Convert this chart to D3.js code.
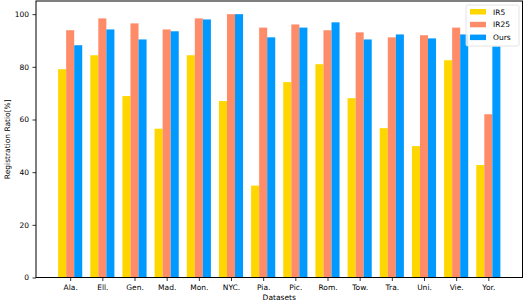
<!DOCTYPE html>
<html lang="en">

<head>
    <script src='https://d3js.org/d3.v7.min.js'></script>
    <style>
        body { margin: 0; background: #fff; }
        text { font-family: "DejaVu Sans", sans-serif; }
    </style>
</head>

<body>

    <script>
        // dataset names on the x axis
        const datasets = ["Ala.", "Ell.", "Gen.", "Mad.", "Mon.", "NYC.", "Pia.", "Pic.", "Rom.", "Tow.", "Tra.", "Uni.", "Vie.", "Yor."];

        // registration ratio per method
        const ir5 = [79.1, 84.4, 68.9, 56.5, 84.4, 67.0, 34.9, 74.2, 81.0, 68.1, 56.7, 49.9, 82.5, 42.7];
        const ir25 = [93.9, 98.4, 96.5, 94.2, 98.4, 100, 94.9, 96.1, 93.9, 93.1, 91.2, 92.0, 94.9, 62.0];
        const ours = [88.2, 94.2, 90.4, 93.5, 98.0, 100, 91.2, 94.9, 96.9, 90.4, 92.3, 90.8, 92.3, 87.7];

        const seriesNames = ["IR5", "IR25", "Ours"];
        const colors = ["#FFD700", "#FF8C69", "#0099FF"];
        const yTicks = [0, 20, 40, 60, 80, 100];

        const width = 524, height = 304;
        const margin = {left: 36, right: 1.5, top: 1, bottom: 26.5};

        const svg = d3.select("body").append("svg")
            .attr("width", width)
            .attr("height", height);

        // matplotlib style: bars at integer positions, width 0.25, 5% margins
        const x = d3.scaleLinear()
            .domain([-1.0625, datasets.length - 1 + 1.0625])
            .range([margin.left, width - margin.right]);

        const y = d3.scaleLinear()
            .domain([0, 105])
            .range([height - margin.bottom, margin.top]);

        const series = [ir5, ir25, ours];
        const bw = 0.25;

        series.forEach(function(vals, s) {
            svg.append("g")
                .selectAll("rect")
                .data(vals)
                .enter()
                .append("rect")
                .attr("x", (d, i) => x(i + (s - 1) * bw - bw / 2))
                .attr("width", x(bw) - x(0))
                .attr("y", d => y(d))
                .attr("height", d => y(0) - y(d))
                .attr("fill", colors[s]);
        });

        // axes
        const xAxis = d3.axisBottom(x)
            .tickValues(d3.range(datasets.length))
            .tickFormat(i => datasets[i])
            .tickSize(3.5)
            .tickPadding(3.5);

        const yAxis = d3.axisLeft(y)
            .tickValues(yTicks)
            .tickSize(3.5)
            .tickPadding(3.5);

        const gx = svg.append("g")
            .attr("transform", "translate(0," + (height - margin.bottom) + ")")
            .call(xAxis);
        const gy = svg.append("g")
            .attr("transform", "translate(" + margin.left + ",0)")
            .call(yAxis);

        [gx, gy].forEach(g => {
            g.select(".domain").remove();
            g.selectAll("line").attr("stroke", "#000").attr("stroke-width", 0.8);
            g.selectAll("text").attr("font-size", 7.5).attr("fill", "#000")
                .attr("font-family", "DejaVu Sans");
        });

        // frame
        svg.append("rect")
            .attr("x", margin.left)
            .attr("y", margin.top)
            .attr("width", width - margin.right - margin.left)
            .attr("height", height - margin.bottom - margin.top)
            .attr("fill", "none")
            .attr("stroke", "#000")
            .attr("stroke-width", 1);

        // axis labels
        svg.append("text")
            .attr("x", (margin.left + width - margin.right) / 2)
            .attr("y", 300)
            .attr("text-anchor", "middle")
            .attr("font-size", 7.5)
            .text("Datasets");

        svg.append("text")
            .attr("transform", "translate(10," + ((height - margin.bottom + margin.top) / 2) + ") rotate(-90)")
            .attr("text-anchor", "middle")
            .attr("font-size", 7.5)
            .text("Registration Ratio[%]");

        // legend
        const lg = svg.append("g").attr("transform", "translate(466,5)");
        lg.append("rect")
            .attr("width", 53)
            .attr("height", 41)
            .attr("rx", 1.5)
            .attr("fill", "#fff")
            .attr("fill-opacity", 0.8)
            .attr("stroke", "#ddd")
            .attr("stroke-width", 0.8);

        seriesNames.forEach(function(name, i) {
            lg.append("rect")
                .attr("x", 4)
                .attr("y", 4 + i * 12.8)
                .attr("width", 16)
                .attr("height", 5.5)
                .attr("fill", colors[i]);
            lg.append("text")
                .attr("x", 27)
                .attr("y", 9.5 + i * 12.8)
                .attr("font-size", 7.5)
                .text(name);
        });
    </script>

</body>

</html>
